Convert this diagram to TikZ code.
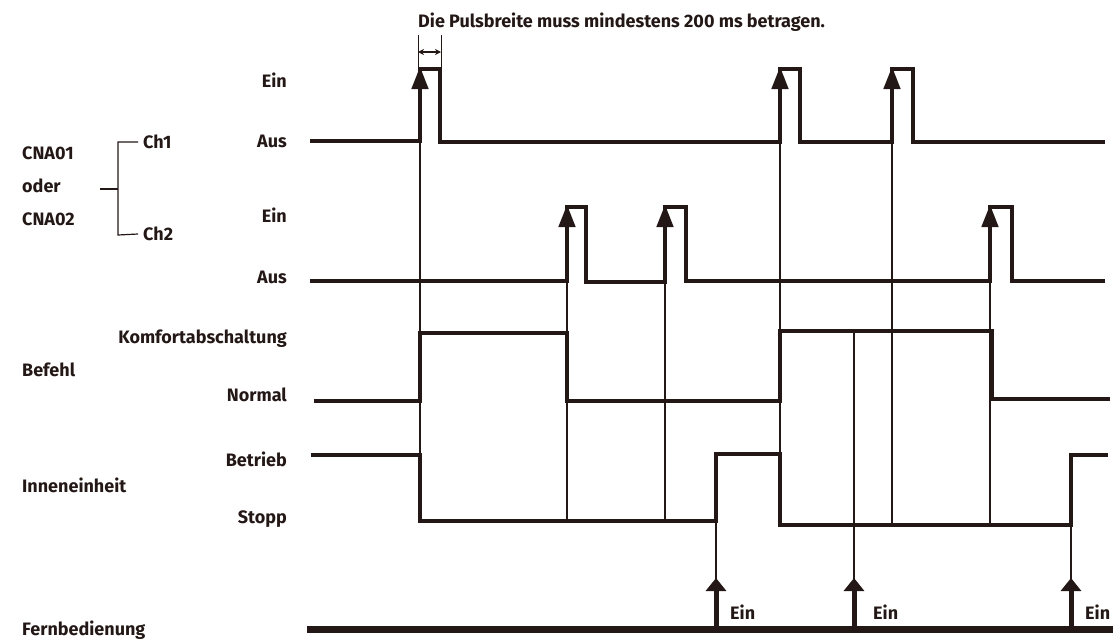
\documentclass[tikz,border=0pt]{standalone}
\usepackage{fontspec}
\setmainfont{Fira Sans}
\usetikzlibrary{arrows.meta,calc}
\definecolor{ink}{RGB}{35,24,21}

\begin{document}
\begin{tikzpicture}[x=1pt, y=-1pt, ink,
        lbl/.style={font=\bfseries\fontsize{18}{20}\selectfont, inner sep=0pt, text=ink},
        signal/.style={line width=4pt, line join=miter},
        trigger/.style={line width=1.6pt},
        pulsetip/.style={-{Triangle[width=17pt, length=22pt]}},
        remotetip/.style={line width=5pt, -{Triangle[width=20pt, length=13pt]}}]
            \useasboundingbox (0,0) rectangle (1113,641);

            \node[lbl, anchor=west] (hint) at (418, 22) {Die Pulsbreite muss mindestens 200 ms betragen.};

            \node[lbl, anchor=west] (cna1) at (22, 153) {CNA01};
            \node[lbl, anchor=west] (oder) at (22, 186) {oder};
            \node[lbl, anchor=west] (cna2) at (22, 219) {CNA02};
            \node[lbl, anchor=west] (ch1) at (143, 142) {Ch1};
            \node[lbl, anchor=west] (ch2) at (143, 234) {Ch2};
            \draw[line width=1.2pt] (100, 189) -- (118, 189);
            \draw[line width=1.2pt] ($(ch1.west)+(-5,0)$) -- (118, 142) -- (118, 235) -- ($(ch2.west)+(-5,0)$);

            \node[lbl, anchor=east] (ein1) at (287, 80) {Ein};
            \node[lbl, anchor=east] (aus1) at (287, 141) {Aus};
            \node[lbl, anchor=east] (ein2) at (287, 215) {Ein};
            \node[lbl, anchor=east] (aus2) at (287, 277) {Aus};
            \node[lbl, anchor=east] (komf) at (287, 339) {Komfortabschaltung};
            \node[lbl, anchor=east] (norm) at (287, 395) {Normal};
            \node[lbl, anchor=east] (betr) at (287, 459) {Betrieb};
            \node[lbl, anchor=east] (stop) at (287, 519) {Stopp};

            \node[lbl, anchor=west] (befehl) at (22, 370) {Befehl};
            \node[lbl, anchor=west] (innen) at (22, 485) {Inneneinheit};
            \node[lbl, anchor=west] (fern) at (22, 630) {Fernbedienung};

            \draw[line width=1pt] (418, 35) -- (418, 67);
            \draw[line width=1pt] (441, 35) -- (441, 67);
            \draw[line width=1.2pt, {Stealth[length=6pt, width=6pt]}-{Stealth[length=6pt, width=6pt]}] (418, 52) -- (441, 52);

            \draw[signal] (310,141) -- (420,141) -- (420,69) -- (440,69) -- (440,142) -- (780,142) -- (780,69) -- (800,69)
                -- (800,142) -- (892,142) -- (892,69) -- (913,69) -- (913,142) -- (1105,142);
            \draw[signal] (310,281) -- (567,281) -- (567,207) -- (586,207) -- (586,282) -- (665,282) -- (665,207) -- (686,207)
                -- (686,281) -- (990,281) -- (990,207) -- (1012,207) -- (1012,281) -- (1105,281);
            \draw[signal] (314,401) -- (420,401) -- (420,333) -- (567,333) -- (567,401) -- (780,401) -- (780,331)
                -- (992,331) -- (992,399) -- (1110,399);
            \draw[signal] (311,455) -- (420,455) -- (420,521) -- (716,521) -- (716,454) -- (780,454) -- (780,525)
                -- (1071,525) -- (1071,455) -- (1108,455);
            \draw[line width=7pt] (307,629) -- (1113,629);

            \draw[trigger, pulsetip] (420,521) -- (420,67);
            \draw[trigger, pulsetip] (567,521) -- (567,205);
            \draw[trigger, pulsetip] (665,521) -- (665,205);
            \draw[trigger, pulsetip] (780,525) -- (780,67);
            \draw[trigger, pulsetip] (892,525) -- (892,67);
            \draw[trigger, pulsetip] (990,525) -- (990,205);

            \draw[trigger] (716,580) -- (716,454);
            \draw[trigger] (854,580) -- (854,331);
            \draw[trigger] (1071,580) -- (1071,525);
            \draw[remotetip] (716,626) -- (716,578);
            \draw[remotetip] (854,626) -- (854,578);
            \draw[remotetip] (1071,626) -- (1071,578);

            \node[lbl, anchor=west] (on1) at (730, 612) {Ein};
            \node[lbl, anchor=west] (on2) at (873, 612) {Ein};
            \node[lbl, anchor=west] (on3) at (1085, 612) {Ein};
        \end{tikzpicture}
\end{document}
